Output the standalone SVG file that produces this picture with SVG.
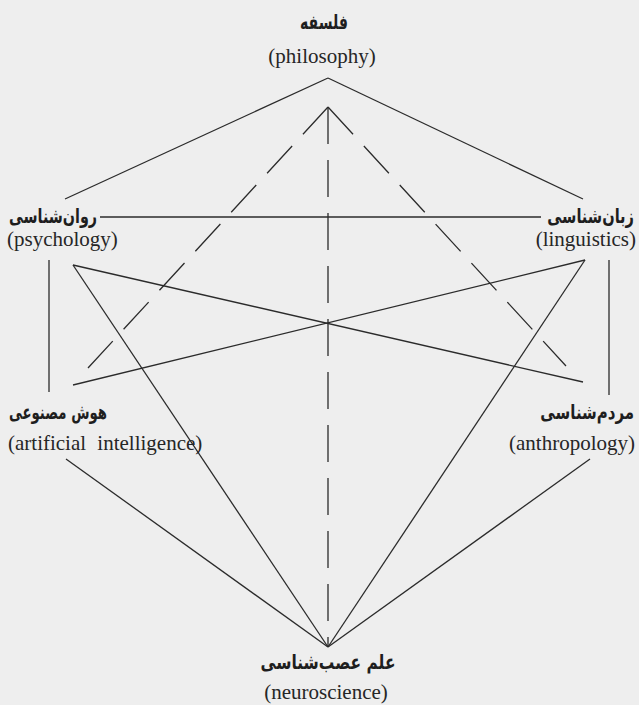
<svg xmlns="http://www.w3.org/2000/svg" width="639" height="705" viewBox="0 0 639 705">
<style>
.bg{fill:#eeeeee}
.ln{stroke:#2b2b2b;stroke-width:1.3;fill:none;stroke-linecap:butt}
.dash{stroke-dasharray:37 16}
.en{font-family:"Liberation Serif","Times New Roman",serif;font-size:21px;fill:#262626}
.fa{font-family:"DejaVu Sans","Noto Sans",sans-serif;font-size:20px;font-weight:bold;fill:#1e1e1e}
</style>
<rect class="bg" x="0" y="0" width="639" height="705"/>
<g id="connectors">
<line class="ln" x1="328" y1="78" x2="65" y2="199"/>
<line class="ln" x1="328" y1="78" x2="583" y2="199"/>
<line class="ln" x1="100" y1="217" x2="541" y2="217"/>
<line class="ln" x1="49" y1="260" x2="49" y2="392"/>
<line class="ln" x1="609" y1="260" x2="609" y2="395"/>
<line class="ln" x1="73" y1="265" x2="583" y2="382"/>
<line class="ln" x1="585" y1="260" x2="73" y2="385"/>
<line class="ln" x1="73" y1="265" x2="328" y2="647"/>
<line class="ln" x1="585" y1="260" x2="328" y2="647"/>
<line class="ln" x1="66" y1="459" x2="328" y2="647"/>
<line class="ln" x1="590" y1="459" x2="328" y2="647"/>
<line class="ln dash" x1="328" y1="107" x2="88" y2="368"/>
<line class="ln dash" x1="328" y1="107" x2="566" y2="366"/>
<line class="ln dash" x1="328" y1="107" x2="328" y2="647"/>
</g>
<g id="philosophy">
<text class="fa" x="324" y="29" text-anchor="middle" textLength="48" lengthAdjust="spacingAndGlyphs">فلسفه</text>
<text class="en" x="322" y="63" text-anchor="middle">(philosophy)</text>
</g>
<g id="psychology">
<text class="fa" x="9" y="223" textLength="88" lengthAdjust="spacingAndGlyphs">روان‌شناسی</text>
<text class="en" x="7" y="246">(psychology)</text>
</g>
<g id="linguistics">
<text class="fa" text-anchor="end" transform="translate(634 223) scale(0.73 1)">زبان‌شناسی</text>
<text class="en" x="636" y="246" text-anchor="end">(linguistics)</text>
</g>
<g id="artificial-intelligence">
<text class="fa" x="9" y="419" textLength="98" lengthAdjust="spacingAndGlyphs">هوش مصنوعی</text>
<text class="en" x="8" y="450" word-spacing="6">(artificial intelligence)</text>
</g>
<g id="anthropology">
<text class="fa" text-anchor="end" transform="translate(634 419) scale(0.75 1)">مردم‌شناسی</text>
<text class="en" x="635" y="450" text-anchor="end">(anthropology)</text>
</g>
<g id="neuroscience">
<text class="fa" x="328" y="669" text-anchor="middle" textLength="135" lengthAdjust="spacingAndGlyphs">علم عصب‌شناسی</text>
<text class="en" x="326" y="699" text-anchor="middle">(neuroscience)</text>
</g>
</svg>
